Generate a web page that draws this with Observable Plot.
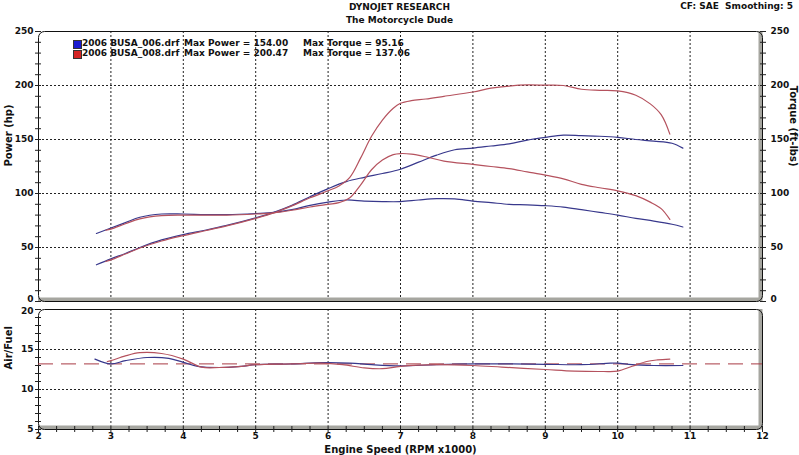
<!DOCTYPE html>
<html>
<head>
<meta charset="utf-8">
<script src="https://cdn.jsdelivr.net/npm/d3@7"></script>
<script src="https://cdn.jsdelivr.net/npm/@observablehq/plot@0.6"></script>
<style>
  html, body { margin: 0; padding: 0; background: #fff; }
  #wrap { position: relative; width: 799px; height: 455px; overflow: hidden; font-family: "DejaVu Sans", sans-serif; font-weight: bold; font-size: 9px; color: #111; }
  .abs { position: absolute; white-space: pre; }
  .sq { position: absolute; width: 7px; height: 7px; border: 1px solid #333; }
</style>
</head>
<body>
<div id="wrap"></div>
<script>
// ---- Data: run 006 (blue) ----
const rpmBlue    = [2.8, 3.0, 3.2, 3.4, 3.7, 4.0, 4.3, 4.6, 5.0, 5.25, 5.5, 5.75, 6.0, 6.25, 6.5, 6.75, 7.0, 7.25, 7.5, 7.75, 8.0, 8.25, 8.5, 8.75, 9.0, 9.25, 9.5, 9.75, 10.0, 10.25, 10.5, 10.75, 10.9];
const powerBlue  = [34, 39.5, 44.5, 50, 57, 62, 66, 70.5, 77.5, 82.5, 89, 97, 104.5, 111, 115, 118.5, 122.5, 129, 135.5, 140.5, 142, 144, 146, 149.5, 152, 154, 153.5, 153, 152, 150, 148.5, 146.5, 142];
const torqueBlue = [63, 68, 73, 78, 81, 81, 80.5, 80.5, 81.5, 82.5, 85, 89, 92, 94, 93, 92.5, 92.5, 94, 95.2, 95, 93, 91.5, 90, 89.5, 88.7, 87.4, 85, 82.5, 80, 77, 74.5, 71.5, 69];
// ---- Data: run 008 (red) ----
const rpmRed    = [2.93, 3.0, 3.2, 3.4, 3.7, 4.0, 4.3, 4.6, 5.0, 5.25, 5.5, 5.75, 6.0, 6.15, 6.3, 6.45, 6.6, 6.75, 6.9, 7.0, 7.15, 7.35, 7.6, 8.0, 8.25, 8.5, 8.75, 9.0, 9.25, 9.5, 9.75, 10.0, 10.25, 10.45, 10.6, 10.72];
const powerRed  = [37, 38.5, 44, 49.5, 56, 61, 65.5, 70, 77, 82, 88.5, 96, 102.5, 107, 115, 133, 153, 168, 179, 183.5, 186, 187.5, 190, 194, 197.5, 199.5, 200.5, 200.3, 200, 196.5, 195.5, 195, 191, 183, 173, 155];
const torqueRed = [66, 67, 72, 76.5, 79.5, 80, 80, 80, 81, 82, 84.5, 87.5, 90, 91.5, 96, 108, 122, 131, 136, 137, 136.5, 134, 130, 127, 125, 123, 120, 117, 113.5, 108.5, 105.3, 102.5, 98, 92, 86, 76];
// ---- Air/Fuel ----
const afrRpmBlue = [2.78, 3.0, 3.2, 3.5, 3.8, 4.0, 4.2, 4.5, 4.8, 5.0, 5.5, 5.9, 6.3, 6.6, 7.0, 7.5, 8.0, 8.5, 9.0, 9.5, 9.9, 10.0, 10.2, 10.5, 10.9];
const afrBlue    = [13.8, 13.2, 13.6, 14.0, 13.9, 13.4, 12.9, 12.75, 12.9, 13.1, 13.2, 13.35, 13.3, 13.1, 12.95, 13.1, 13.2, 13.2, 13.15, 13.1, 13.3, 13.3, 13.1, 13.0, 13.0];
const afrRpmRed  = [2.95, 3.0, 3.2, 3.4, 3.7, 4.0, 4.25, 4.5, 4.8, 5.0, 5.5, 5.9, 6.2, 6.5, 6.75, 7.0, 7.5, 8.0, 8.4, 9.0, 9.4, 9.8, 10.0, 10.2, 10.4, 10.55, 10.72];
const afrRed     = [13.5, 13.6, 14.2, 14.6, 14.5, 13.8, 12.8, 12.75, 12.9, 13.1, 13.2, 13.3, 13.1, 12.7, 12.6, 12.9, 13.1, 13.0, 12.8, 12.5, 12.3, 12.25, 12.3, 12.9, 13.5, 13.7, 13.8];
const afrTarget  = [13.2];
// ---- Ticks / labels ----
const xTicks       = [2, 3, 4, 5, 6, 7, 8, 9, 10, 11, 12];
const topTicks     = [0, 50, 100, 150, 200, 250];
const bottomTicks  = [5, 10, 15, 20];
const runs = [
  {name: "2006 BUSA_006.drf", maxPower: "154.00", maxTorque: "95.16"},
  {name: "2006 BUSA_008.drf", maxPower: "200.47", maxTorque: "137.06"}
];

const BLUE = "#38388c", RED = "#b5525e";
const blueRows = rpmBlue.map((r, i) => ({rpm: r, power: powerBlue[i], torque: torqueBlue[i]}));
const redRows  = rpmRed.map((r, i) => ({rpm: r, power: powerRed[i], torque: torqueRed[i]}));
const afrBlueRows = afrRpmBlue.map((r, i) => ({rpm: r, afr: afrBlue[i]}));
const afrRedRows  = afrRpmRed.map((r, i) => ({rpm: r, afr: afrRed[i]}));

const baseStyle = {fontFamily: "DejaVu Sans, sans-serif", fontSize: "9px", fontWeight: "bold", background: "transparent", overflow: "visible", color: "#111"};
const grid = {stroke: "#222", strokeOpacity: 1, strokeDasharray: "2,2", strokeWidth: 1};
const empty = () => "";

const topPlot = Plot.plot({
  width: 799, height: 302,
  marginLeft: 38, marginRight: 37, marginTop: 31, marginBottom: 1,
  x: {domain: [2, 12], axis: null},
  y: {domain: [0, 250], axis: null},
  style: baseStyle,
  marks: [
    Plot.gridX(xTicks.slice(1, -1), grid),
    Plot.gridY(topTicks.slice(1, -1), grid),
    Plot.ruleY([0], {stroke: "#a6a6a0", strokeWidth: 4, dy: -2}),
    Plot.ruleX([12], {stroke: "#a6a6a0", strokeWidth: 4, dx: -2}),
    Plot.frame({stroke: "#111", rx: 6}),
    Plot.axisY(d3.range(0, 251, 10), {anchor: "left", tickSize: 6, dx: 3, tickFormat: empty, label: null, stroke: "#222"}),
    Plot.axisY(d3.range(0, 251, 10), {anchor: "right", tickSize: 6, dx: -3, tickFormat: empty, label: null, stroke: "#222"}),
    Plot.axisY(topTicks.slice(1), {anchor: "left", tickSize: 0, tickPadding: 5, label: null}),
    Plot.axisY(topTicks.slice(1), {anchor: "right", tickSize: 0, tickPadding: 8, label: null}),
    Plot.axisY(topTicks.slice(0, 1), {anchor: "left", tickSize: 0, tickPadding: 5, label: null, dy: -2}),
    Plot.axisY(topTicks.slice(0, 1), {anchor: "right", tickSize: 0, tickPadding: 8, label: null, dy: -2}),
    Plot.line(blueRows, {x: "rpm", y: "torque", stroke: BLUE, strokeWidth: 1.2, curve: "catmull-rom"}),
    Plot.line(blueRows, {x: "rpm", y: "power", stroke: BLUE, strokeWidth: 1.2, curve: "catmull-rom"}),
    Plot.line(redRows, {x: "rpm", y: "torque", stroke: RED, strokeWidth: 1.2, curve: "catmull-rom"}),
    Plot.line(redRows, {x: "rpm", y: "power", stroke: RED, strokeWidth: 1.2, curve: "catmull-rom"}),
    Plot.text(["Power (hp)"], {frameAnchor: "left", text: d => d, rotate: -90, dx: -30, fontSize: 10}),
    Plot.text(["Torque (ft-lbs)"], {frameAnchor: "right", text: d => d, rotate: 90, dx: 31, fontSize: 10})
  ]
});

const bottomPlot = Plot.plot({
  width: 799, height: 153,
  marginLeft: 38, marginRight: 37, marginTop: 7, marginBottom: 26,
  x: {domain: [2, 12], axis: null},
  y: {domain: [5, 20], axis: null},
  style: baseStyle,
  marks: [
    Plot.gridX(xTicks.slice(1, -1), grid),
    Plot.gridY([10, 15], grid),
    Plot.ruleY([5], {stroke: "#a6a6a0", strokeWidth: 4, dy: -2}),
    Plot.ruleX([12], {stroke: "#a6a6a0", strokeWidth: 4, dx: -2}),
    Plot.frame({stroke: "#111", rx: 6}),
    Plot.axisY(d3.range(5, 20.01, 1), {anchor: "left", tickSize: 6, dx: 3, tickFormat: empty, label: null, stroke: "#222"}),
    Plot.axisY(bottomTicks.slice(0, -1), {anchor: "left", tickSize: 0, tickPadding: 5, label: null}),
    Plot.axisY(bottomTicks.slice(-1), {anchor: "left", tickSize: 0, tickPadding: 5, label: null, dy: 2}),
    Plot.axisX(d3.range(2, 12.001, 0.25), {anchor: "bottom", tickSize: 6, dy: -3, tickFormat: empty, label: null, stroke: "#222"}),
    Plot.axisX(xTicks, {anchor: "bottom", tickSize: 0, tickPadding: 3, label: null}),
    Plot.ruleY(afrTarget, {stroke: "#a83a44", strokeWidth: 1, strokeDasharray: "15,8"}),
    Plot.line(afrBlueRows, {x: "rpm", y: "afr", stroke: BLUE, strokeWidth: 1.2, curve: "catmull-rom"}),
    Plot.line(afrRedRows, {x: "rpm", y: "afr", stroke: RED, strokeWidth: 1.2, curve: "catmull-rom"}),
    Plot.text(["Air/Fuel"], {frameAnchor: "left", text: d => d, rotate: -90, dx: -30, fontSize: 10}),
    Plot.text(["Engine Speed (RPM x1000)"], {frameAnchor: "bottom", text: d => d, dy: 20, fontSize: 10, lineAnchor: "middle"})
  ]
});

const wrap = document.getElementById("wrap");
topPlot.style.position = "absolute"; topPlot.style.left = "0px"; topPlot.style.top = "0px";
bottomPlot.style.position = "absolute"; bottomPlot.style.left = "0px"; bottomPlot.style.top = "302px";
wrap.appendChild(bottomPlot);
wrap.appendChild(topPlot);

function addText(txt, left, topPx, extra) {
  const d = document.createElement("div");
  d.className = "abs";
  d.textContent = txt;
  d.style.left = left + "px"; d.style.top = topPx + "px";
  if (extra) Object.assign(d.style, extra);
  wrap.appendChild(d);
  return d;
}
addText("DYNOJET RESEARCH", 0, 2, {width: "799px", textAlign: "center", left: "0px"});
addText("The Motorcycle Dude", 0, 15, {width: "799px", textAlign: "center", left: "0px"});
addText("CF: SAE  Smoothing: 5", 0, 1, {left: "auto", right: "6px"});

const legendColors = ["#1a1ad0", "#d42424"];
runs.forEach((r, i) => {
  const y = 40 + i * 10;
  const sq = document.createElement("div");
  sq.className = "sq";
  sq.style.left = "73px"; sq.style.top = y + "px";
  sq.style.background = legendColors[i];
  wrap.appendChild(sq);
  addText(r.name, 82, y - 2);
  addText("Max Power = " + r.maxPower, 184, y - 2);
  addText("Max Torque = " + r.maxTorque, 303, y - 2);
});
</script>
</body>
</html>
